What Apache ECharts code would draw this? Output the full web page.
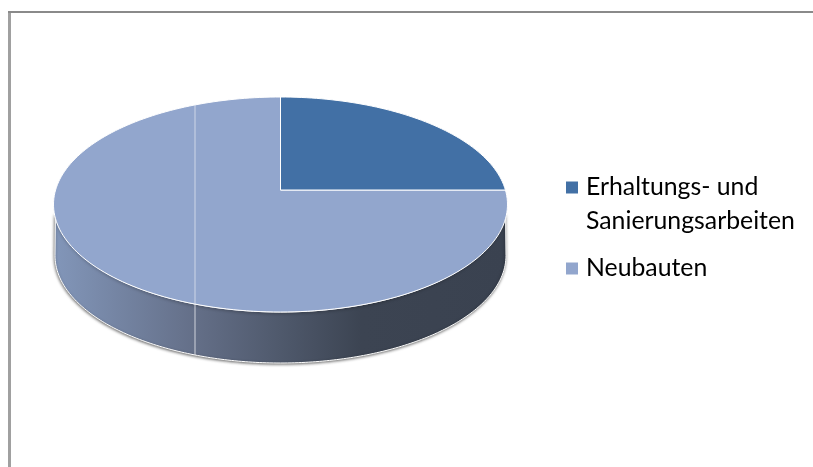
<!DOCTYPE html>
<html>
<head>
<meta charset="utf-8">
<style>html,body{margin:0;padding:0;background:#fff}#chart{width:813px;height:467px}</style>
<script src="https://cdn.jsdelivr.net/npm/echarts@6/dist/echarts.min.js"></script>
</head>
<body>
<div id="chart"></div>
<script>
const categories = ['Erhaltungs- und\nSanierungsarbeiten', 'Neubauten'];
const sliceValues = [25, 75];
const sliceColors = ['#4270a5', '#92a6cd'];

// Tilted disc: top-face ellipse, wall height, and the vanishing shift of the pie's apex
const disc = { cx: 280.5, cy: 204.5, rx: 227, ry: 107.5, depth: 51, apexY: 190, seamX: 195 };
const k = (disc.cy - disc.apexY) / disc.ry;
const total = sliceValues.reduce((a, b) => a + b, 0);

// Map a clockwise fraction of the pie (0 = 12 o'clock) onto the tilted rim
function rim(f) {
  const t = f * 2 * Math.PI, X = Math.sin(t), Y = Math.cos(t), d = 1 + k * Y;
  return [disc.cx + disc.rx * X * Math.sqrt(1 - k * k) / d, disc.cy - disc.ry * (Y + k) / d];
}
function topY(x, sign) {
  const u = (x - disc.cx) / disc.rx;
  return disc.cy + sign * disc.ry * Math.sqrt(Math.max(0, 1 - u * u));
}
function sectorPoints(from, to) {
  const pts = [[disc.cx, disc.apexY]];
  const n = Math.max(2, Math.ceil((to - from) * 240));
  for (let i = 0; i <= n; i++) pts.push(rim(from + (to - from) * i / n));
  return pts;
}
// Wall outline: lower half of the top rim, back along the lower half of the bottom rim
function wallPoints() {
  const pts = [];
  const a0 = 0.09;
  for (let i = 0; i <= 200; i++) {
    const a = a0 + (Math.PI - 2 * a0) * i / 200;
    pts.push([disc.cx - (disc.rx - 1) * Math.cos(a), disc.cy + disc.ry * Math.sin(a)]);
  }
  for (let i = 200; i >= 0; i--) {
    const a = Math.PI * i / 200;
    pts.push([disc.cx - (disc.rx - 1.5) * Math.cos(a), disc.cy + disc.depth + disc.ry * Math.sin(a)]);
  }
  return pts;
}
const wallGradient = new echarts.graphic.LinearGradient(0, 0, 1, 0, [
  { offset: 0, color: '#8296b9' },
  { offset: 0.31, color: '#646f88' },
  { offset: 0.5, color: '#4f596c' },
  { offset: 0.68, color: '#3c4452' },
  { offset: 1, color: '#3a4250' }
]);

function renderSlice(seriesIndex) {
  return function (params, api) {
    const before = sliceValues.slice(0, seriesIndex).reduce((a, b) => a + b, 0);
    const from = before / total, to = (before + api.value(0)) / total;
    const children = [];
    if (seriesIndex === 1) {
      children.push({
        type: 'polygon', shape: { points: wallPoints() },
        style: { fill: wallGradient, stroke: '#fff', lineWidth: 1, shadowColor: 'rgba(0,0,0,0.55)', shadowBlur: 3, shadowOffsetX: -0.5, shadowOffsetY: 1 }
      });
      children.push({
        type: 'line',
        shape: { x1: disc.seamX, y1: topY(disc.seamX, 1), x2: disc.seamX, y2: topY(disc.seamX, 1) + disc.depth },
        style: { stroke: 'rgba(255,255,255,0.7)', lineWidth: 1 }
      });
    }
    children.push({
      type: 'polygon', shape: { points: sectorPoints(from, to) },
      style: { fill: api.visual('color'), stroke: '#fff', lineWidth: 1 }
    });
    if (seriesIndex === 1) {
      children.push({
        type: 'line',
        shape: { x1: disc.seamX, y1: topY(disc.seamX, -1), x2: disc.seamX, y2: topY(disc.seamX, 1) },
        style: { stroke: 'rgba(255,255,255,0.55)', lineWidth: 1 }
      });
    }
    return { type: 'group', children };
  };
}

// Legend marker sits on the first text line, so wrapped names get a blank leading line
function legendText(name) {
  const lines = name.split('\n').map(s => '{t|' + s + '}');
  return (lines.length > 1 ? ['{t| }'].concat(lines) : lines).join('\n');
}

const chart = echarts.init(document.getElementById('chart'), null, { renderer: 'canvas' });
chart.setOption({
  animation: false,
  backgroundColor: '#fff',
  color: sliceColors,
  legend: {
    orient: 'vertical', left: 561, top: 136,
    itemWidth: 12, itemHeight: 12, itemGap: 22, icon: 'rect',
    selectedMode: false,
    formatter: legendText,
    textStyle: {
      rich: { t: { fontFamily: 'Lato', fontSize: 24.8, lineHeight: 34, color: '#000', padding: [0, 0, 0, 3] } }
    },
    data: categories
  },
  graphic: [
    { type: 'rect', shape: { x: 8, y: 11, width: 3, height: 456 }, style: { fill: '#a0a0a0' }, z: 0 },
    { type: 'rect', shape: { x: 8, y: 11, width: 805, height: 2 }, style: { fill: '#8a8a8a' }, z: 0 }
  ],
  series: [1, 0].map(i => ({
    type: 'custom',
    name: categories[i],
    coordinateSystem: 'none',
    renderItem: renderSlice(i),
    data: [[sliceValues[i]]],
    itemStyle: { color: sliceColors[i] },
    silent: true
  }))
});
</script>
</body>
</html>
